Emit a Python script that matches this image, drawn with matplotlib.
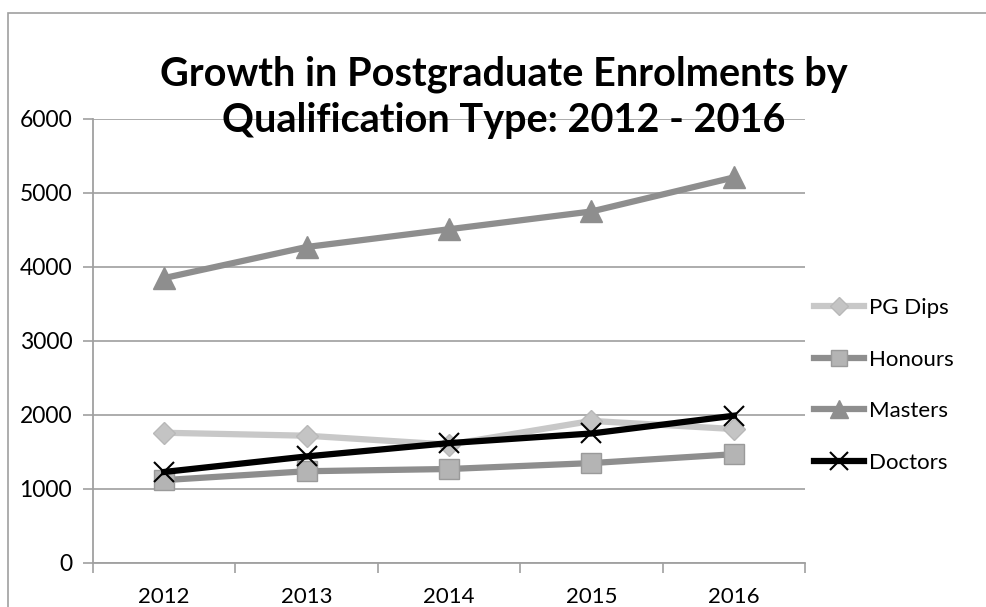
import matplotlib
matplotlib.use("Agg")
import matplotlib.pyplot as plt
from matplotlib.patches import Rectangle

years = ["2012", "2013", "2014", "2015", "2016"]
pg_dips = [1760, 1720, 1600, 1920, 1810]
honours = [1120, 1240, 1270, 1350, 1470]
masters = [3850, 4270, 4510, 4750, 5210]
doctors = [1230, 1440, 1620, 1750, 1990]

plt.rcParams['font.family'] = ['Lato', 'DejaVu Sans']

fig = plt.figure(figsize=(9.87, 6.07), dpi=100)
ax = fig.add_axes([0.0942, 0.0725, 0.7214, 0.7315])

# outer chart frame (Excel style), runs off the right and bottom edges
fig.patches.append(Rectangle((8 / 987, -0.5), 2.0, 1.5 - 13 / 607,
                             transform=fig.transFigure, fill=False,
                             edgecolor="#a0a0a0", linewidth=1.2))

x = range(len(years))
ax.plot(x, pg_dips, color="#c8c8c8", lw=4.5, marker="D", ms=11,
        mfc="#c4c4c4", mec="#b8b8b8", mew=1, label="PG Dips", zorder=3)
ax.plot(x, honours, color="#8e8e8e", lw=4.5, marker="s", ms=14,
        mfc="#b4b4b4", mec="#9a9a9a", mew=1, label="Honours", zorder=4)
ax.plot(x, masters, color="#8e8e8e", lw=4.5, marker="^", ms=16,
        mfc="#8e8e8e", mec="#8e8e8e", label="Masters", zorder=5)
ax.plot(x, doctors, color="black", lw=4.5, marker="x", ms=15, mew=1.5,
        mec="black", label="Doctors", zorder=6)

ax.set_xlim(-0.5, 4.5)
ax.set_ylim(0, 6000)
ax.set_yticks(range(0, 6001, 1000))
ax.set_xticks(x)
ax.set_xticklabels(years)
ax.set_xticks([i - 0.5 for i in range(len(years) + 1)], minor=True)
ax.tick_params(axis="x", which="major", length=0, pad=17, labelsize=16)
ax.tick_params(axis="x", which="minor", length=7, width=1.2, color="#a0a0a0")
ax.tick_params(axis="y", length=7, width=1.2, color="#a0a0a0", pad=8, labelsize=16.5)

ax.grid(axis="y", color="#a6a6a6", lw=1.3)
ax.set_axisbelow(True)
for s in ["top", "right"]:
    ax.spines[s].set_visible(False)
for s in ["left", "bottom"]:
    ax.spines[s].set_color("#a0a0a0")
    ax.spines[s].set_linewidth(1.3)

fig.text(0.51, 0.84, "Growth in Postgraduate Enrolments by\nQualification Type: 2012 - 2016",
         ha="center", va="center", fontsize=28.5, fontweight="bold", linespacing=1.29)

ax.legend(loc="center left", bbox_to_anchor=(1.0, 0.40), frameon=False,
          fontsize=16, handlelength=2.25, handletextpad=0.22, labelspacing=1.42,
          borderaxespad=0.0, markerscale=0.85)

fig.savefig("out.png", dpi=100)
